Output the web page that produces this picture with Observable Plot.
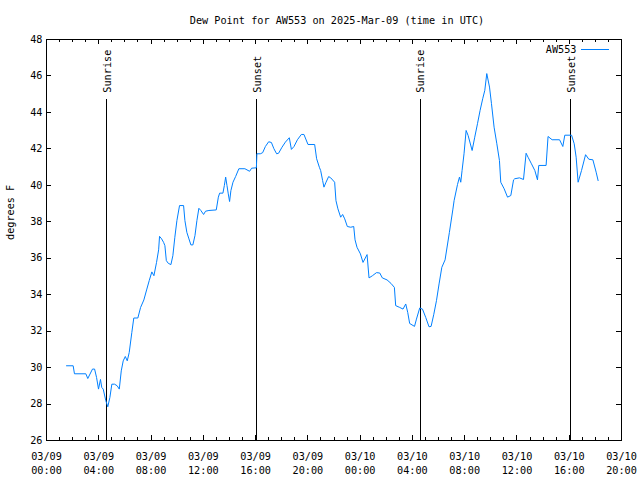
<!DOCTYPE html>
<html>
<head>
<meta charset="utf-8">
<script src="https://cdn.jsdelivr.net/npm/d3@7"></script>
<script src="https://cdn.jsdelivr.net/npm/@observablehq/plot@0.6"></script>
<style>
  html, body { margin: 0; padding: 0; background: #fff; }
  #chart svg { display: block; }
</style>
</head>
<body>
<div id="chart"></div>
<script>
// ---- data (hours since 2025-03-09 00:00 UTC, dew point °F) ----
const stationName = "AW553";
const titleText = "Dew Point for AW553 on 2025-Mar-09 (time in UTC)";
const yLabel = "degrees F";

const hours = [
  1.53,2.04,2.14,3.01,3.16,3.52,3.68,3.83,3.98,4.13,4.23,4.34,4.54,4.69,4.85,5.00,5.21,5.41,5.57,5.72,
  5.87,6.03,6.18,6.33,6.53,6.68,6.99,7.20,7.45,7.66,7.86,8.06,8.22,8.42,8.58,8.65,8.81,8.96,9.06,9.17,
  9.32,9.52,9.67,9.82,9.98,10.18,10.49,10.59,10.74,10.90,11.05,11.20,11.36,11.51,11.66,11.81,12.02,12.17,12.43,12.99,
  13.15,13.25,13.50,13.61,13.71,13.81,13.91,14.01,14.11,14.27,14.47,14.72,15.18,15.54,15.70,16.06,16.10,16.36,16.54,16.75,
  17.00,17.21,17.40,17.61,17.76,18.02,18.28,18.58,18.74,18.94,19.20,19.50,19.70,20.01,20.52,20.67,20.88,20.98,21.13,21.23,
  21.39,21.59,21.75,22.05,22.15,22.30,22.51,22.66,22.82,23.02,23.28,23.51,23.61,23.76,24.02,24.22,24.53,24.68,24.94,25.25,
  25.50,25.70,26.06,26.36,26.62,26.72,27.03,27.28,27.49,27.64,27.79,28.16,28.31,28.56,28.77,29.02,29.27,29.43,29.63,29.84,
  30.04,30.25,30.50,30.83,31.09,31.19,31.45,31.60,31.70,31.80,31.95,32.11,32.26,32.57,32.77,32.98,33.18,33.38,33.54,33.69,
  33.90,34.05,34.25,34.46,34.66,34.76,35.02,35.28,35.53,35.74,35.83,36.19,36.50,36.70,36.85,37.11,37.37,37.57,37.67,38.23,
  38.38,38.69,39.26,39.51,39.66,40.18,40.38,40.53,40.68,40.94,41.25,41.50,41.81,42.06,42.21
];
const dewPoint = [
  30.10,30.10,29.66,29.66,29.40,29.92,29.92,29.46,28.82,29.35,28.91,28.82,28.18,27.85,28.36,29.09,29.09,29.00,28.82,29.82,
  30.37,30.61,30.37,30.83,31.93,32.72,32.72,33.30,33.71,34.26,34.77,35.25,35.04,35.77,36.46,37.20,37.06,36.87,36.69,35.87,
  35.72,35.65,36.14,37.15,38.07,38.89,38.89,38.07,37.42,37.06,36.73,36.73,37.24,38.07,38.74,38.62,38.40,38.58,38.62,38.65,
  39.35,39.57,39.57,39.99,40.45,39.99,39.53,39.11,39.71,40.17,40.48,40.91,40.91,40.77,40.94,40.96,41.73,41.73,41.79,42.13,
  42.39,42.35,42.01,41.73,41.76,42.09,42.37,42.61,41.97,42.13,42.50,42.79,42.79,42.24,42.24,41.46,40.99,40.81,40.26,39.90,
  40.17,40.48,40.41,40.17,39.16,38.71,38.25,38.40,38.16,37.74,37.70,37.74,37.01,36.60,36.24,35.77,36.20,34.92,35.04,35.21,
  35.19,34.92,34.81,34.62,34.40,33.40,33.30,33.21,33.49,33.03,32.42,32.26,32.66,33.27,33.21,32.75,32.24,32.26,32.90,33.67,
  34.59,35.50,35.91,37.42,38.65,39.16,40.04,40.45,40.17,40.81,41.73,43.01,42.74,41.91,42.64,43.38,44.11,44.75,45.21,46.13,
  45.39,44.48,43.19,42.28,41.36,40.17,39.81,39.35,39.44,40.30,40.36,40.41,40.32,41.76,41.54,41.18,40.81,40.30,41.09,41.09,
  42.68,42.50,42.50,42.13,42.75,42.75,42.28,41.54,40.17,40.81,41.68,41.43,41.40,40.72,40.26
];

const eventLabels = ["Sunrise", "Sunset", "Sunrise", "Sunset"];
const eventTimes = ["2025-03-09T04:37Z", "2025-03-09T16:05Z", "2025-03-10T04:35Z", "2025-03-10T16:06Z"];

const xTickHours = [0, 4, 8, 12, 16, 20, 24, 28, 32, 36, 40, 44];
const xMinorHours = d3.range(0, 45, 1);
const yTicks = [26, 28, 30, 32, 34, 36, 38, 40, 42, 44, 46, 48];
const yDomain = [26, 48];
const eventLineTop = 44.7; // graph 0.85

// ---- build tables ----
const t0 = Date.UTC(2025, 2, 9);
const toDate = h => new Date(t0 + h * 3600e3);
const series = hours.map((h, i) => ({time: toDate(h), value: dewPoint[i]}));
const events = eventLabels.map((label, i) => ({label, time: new Date(eventTimes[i])}));
const majorTicks = xTickHours.map(toDate);
const minorTicks = xMinorHours.map(toDate);

const W = 640, H = 480;
const mTop = 39, mBottom = 40, mLeft = 46, mRight = 19;
const frameW = W - mLeft - mRight, frameH = H - mTop - mBottom;
const lineColor = "#0080ff";
const fmt = d3.utcFormat("%m/%d\n%H:%M");

const legendSwatch = (index, scales, values, dims) => {
  const xr = dims.width - dims.marginRight;
  const y = dims.marginTop + 10.5;
  const g = d3.create("svg:g");
  g.append("line")
    .attr("x1", xr - 40).attr("x2", xr - 12)
    .attr("y1", y).attr("y2", y)
    .attr("stroke", lineColor).attr("stroke-width", 1)
    .attr("shape-rendering", "crispEdges");
  return g.node();
};

const chart = Plot.plot({
  width: W, height: H,
  marginTop: mTop, marginBottom: mBottom, marginLeft: mLeft, marginRight: mRight,
  style: {fontFamily: "'DejaVu Sans Mono', monospace", fontSize: "10.2px", color: "black", background: "white"},
  x: {type: "utc", domain: [toDate(0), toDate(44)]},
  y: {domain: yDomain},
  marks: [
    // inward ticks (gnuplot-style, mirrored)
    Plot.tickX(minorTicks, {x: d => d, insetTop: frameH - 3, stroke: "black", shapeRendering: "crispEdges"}),
    Plot.tickX(minorTicks, {x: d => d, insetBottom: frameH - 3, stroke: "black", shapeRendering: "crispEdges"}),
    Plot.tickX(majorTicks, {x: d => d, insetTop: frameH - 5, stroke: "black", shapeRendering: "crispEdges"}),
    Plot.tickX(majorTicks, {x: d => d, insetBottom: frameH - 5, stroke: "black", shapeRendering: "crispEdges"}),
    Plot.tickY(yTicks, {y: d => d, insetRight: frameW - 5, stroke: "black", shapeRendering: "crispEdges"}),
    Plot.tickY(yTicks, {y: d => d, insetLeft: frameW - 5, stroke: "black", shapeRendering: "crispEdges"}),
    // axes labels
    Plot.axisX({ticks: majorTicks, tickFormat: fmt, tickSize: 0, tickPadding: 9, lineHeight: 1.4, label: null}),
    Plot.axisY({ticks: yTicks, tickSize: 0, tickPadding: 4, label: null}),
    // sunrise / sunset markers
    Plot.ruleX(events, {x: "time", y1: yDomain[0], y2: eventLineTop, stroke: "black", strokeWidth: 1, shapeRendering: "crispEdges"}),
    Plot.text(events, {x: "time", y: eventLineTop, text: "label", rotate: -90, textAnchor: "start", dy: -7, dx: 1, fill: "black"}),
    // data
    Plot.line(series, {x: "time", y: "value", stroke: lineColor, strokeWidth: 1}),
    // frame
    Plot.frame({stroke: "black", shapeRendering: "crispEdges"}),
    // title, y label, legend
    Plot.text([titleText], {frameAnchor: "top", lineAnchor: "middle", dy: -19, dx: 3, fill: "black"}),
    Plot.text([yLabel], {frameAnchor: "left", dx: -36, rotate: -90, fill: "black"}),
    Plot.text([stationName], {frameAnchor: "top-right", lineAnchor: "middle", dx: -45, dy: 10.5, textAnchor: "end", fill: "black"}),
    legendSwatch
  ]
});
document.getElementById("chart").appendChild(chart);
</script>
</body>
</html>
